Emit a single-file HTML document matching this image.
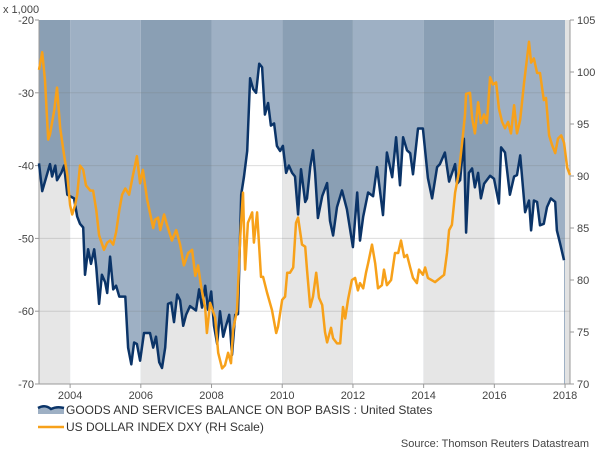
<!DOCTYPE html>
<html><head><meta charset="utf-8"><style>
body{margin:0;background:#fff;}
svg{display:block;font-family:"Liberation Sans",Arial,sans-serif;}
</style></head><body>
<svg id="chart" width="600" height="450" viewBox="0 0 600 450">
<defs><clipPath id="belowClip"><path id="belowPath" d=""/></clipPath></defs>
<g id="bands"></g>
<g id="below" clip-path="url(#belowClip)"></g>
<g id="grid"></g>
<g id="axes"></g>
<g id="series"></g>
<text x="3" y="13" font-size="11" fill="#444">x 1,000</text>
<g>
<g>
<path d="M38,414 L38,408 Q45,404 51,409 Q57,406 64,408 L64,414 Z" fill="#9eb0c4"/>
<path d="M38,408 Q45,404 51,409 Q57,406 64,408" fill="none" stroke="#0b3468" stroke-width="2.5"/>
<text x="66" y="414" font-size="12" fill="#333">GOODS AND SERVICES BALANCE ON BOP BASIS : United States</text>
</g>
<g>
<line x1="38" y1="427" x2="64" y2="427" stroke="#f7a11a" stroke-width="2.5"/>
<text x="66" y="431" font-size="12" fill="#333">US DOLLAR INDEX DXY (RH Scale)</text>
</g>
</g>
<text x="589" y="447" font-size="11" fill="#444" text-anchor="end">Source: Thomson Reuters Datastream</text>
</svg>
<script>
const balDates=[2003.12,2003.21,2003.43,2003.49,2003.58,2003.63,2003.75,2003.83,2003.92,2004.11,2004.20,2004.28,2004.37,2004.42,2004.51,2004.59,2004.68,2004.74,2004.82,2004.90,2004.99,2005.05,2005.13,2005.22,2005.30,2005.39,2005.56,2005.64,2005.73,2005.81,2005.89,2005.98,2006.09,2006.26,2006.35,2006.43,2006.52,2006.60,2006.69,2006.77,2006.86,2006.94,2007.03,2007.11,2007.20,2007.28,2007.39,2007.56,2007.65,2007.73,2007.82,2007.90,2007.99,2008.07,2008.16,2008.24,2008.33,2008.41,2008.50,2008.58,2008.67,2008.75,2008.84,2008.92,2009.01,2009.09,2009.18,2009.26,2009.35,2009.43,2009.51,2009.60,2009.68,2009.77,2009.85,2009.94,2010.02,2010.11,2010.19,2010.28,2010.36,2010.45,2010.53,2010.65,2010.70,2010.79,2010.87,2010.93,2011.01,2011.13,2011.27,2011.35,2011.44,2011.55,2011.69,2011.83,2012.00,2012.12,2012.20,2012.29,2012.43,2012.57,2012.68,2012.85,2012.96,2013.11,2013.22,2013.33,2013.42,2013.53,2013.62,2013.70,2013.84,2013.98,2014.12,2014.24,2014.38,2014.46,2014.60,2014.72,2014.89,2014.94,2015.03,2015.14,2015.20,2015.28,2015.37,2015.45,2015.54,2015.62,2015.71,2015.88,2015.99,2016.13,2016.19,2016.30,2016.44,2016.56,2016.64,2016.73,2016.87,2016.98,2017.04,2017.12,2017.21,2017.29,2017.40,2017.49,2017.60,2017.72,2017.77,2017.86,2017.97];
const balValues=[-39.7,-43.5,-39.8,-41.5,-40,-42,-41,-40,-44,-44.5,-47,-48,-48.5,-55,-51.5,-53.5,-51.5,-54,-59,-55,-56,-57.5,-52.5,-57,-56.5,-58,-58,-65,-67.3,-64.3,-64.5,-66.8,-63,-63,-65,-63.5,-67,-67.8,-65,-59,-58.8,-61.5,-57.7,-58.5,-62,-60.5,-59.3,-59.9,-57,-59.5,-56.5,-59.8,-57.3,-62,-64.5,-60,-63.5,-62,-60.5,-66,-60.5,-60.4,-44,-41.5,-38,-28,-29.5,-30,-26,-26.5,-33,-31.4,-34.5,-34.2,-37.3,-38,-37.3,-41,-40,-41,-41.5,-46.7,-40.5,-45,-44.5,-40.2,-37.9,-41,-47.2,-44.2,-42.4,-47.6,-49.6,-45.7,-43.4,-46,-51.2,-43.7,-50.3,-47,-43.7,-44.2,-40.2,-46.8,-38.2,-41.6,-36.1,-42.7,-36.1,-37.9,-38.3,-41.2,-34.9,-34.9,-41.7,-44.5,-40.2,-39.8,-38.2,-42.2,-39.8,-42.5,-42,-36.3,-49.2,-41,-40.4,-43,-41,-44.5,-42.5,-41.4,-41.8,-45.2,-37.5,-38.2,-44,-41.5,-41.3,-38.6,-46.4,-44.8,-48.9,-44.8,-45,-48.2,-48,-45.7,-44.5,-45,-48.9,-50.7,-53];
const dxyDates=[2003.12,2003.21,2003.29,2003.38,2003.43,2003.55,2003.63,2003.72,2003.83,2003.92,2004.00,2004.06,2004.14,2004.20,2004.28,2004.37,2004.45,2004.57,2004.65,2004.74,2004.82,2004.96,2005.05,2005.13,2005.22,2005.30,2005.39,2005.47,2005.56,2005.67,2005.78,2005.89,2005.98,2006.06,2006.18,2006.35,2006.40,2006.49,2006.55,2006.66,2006.74,2006.88,2007.00,2007.11,2007.22,2007.34,2007.45,2007.54,2007.62,2007.70,2007.82,2007.87,2007.96,2008.10,2008.19,2008.30,2008.38,2008.47,2008.55,2008.61,2008.72,2008.81,2008.89,2008.95,2009.03,2009.15,2009.20,2009.29,2009.40,2009.46,2009.57,2009.71,2009.83,2009.88,2010.00,2010.08,2010.14,2010.22,2010.31,2010.39,2010.45,2010.56,2010.65,2010.70,2010.79,2010.87,2010.96,2011.04,2011.13,2011.21,2011.27,2011.38,2011.44,2011.55,2011.64,2011.72,2011.78,2011.86,2011.97,2012.06,2012.14,2012.20,2012.29,2012.37,2012.43,2012.54,2012.63,2012.71,2012.82,2012.88,2012.96,2013.08,2013.19,2013.28,2013.36,2013.45,2013.53,2013.62,2013.70,2013.81,2013.87,2013.98,2014.04,2014.12,2014.32,2014.58,2014.66,2014.72,2014.80,2014.89,2015.00,2015.11,2015.17,2015.20,2015.31,2015.37,2015.45,2015.54,2015.62,2015.71,2015.79,2015.88,2015.96,2016.05,2016.13,2016.22,2016.30,2016.39,2016.47,2016.56,2016.64,2016.73,2016.84,2016.98,2017.04,2017.12,2017.21,2017.29,2017.40,2017.46,2017.55,2017.63,2017.72,2017.80,2017.89,2017.97,2018.06,2018.14];
const dxyValues=[100.2,101.9,99.2,93.5,94,96.3,98.5,94.6,92,90.1,87.2,86.3,87.2,88.2,91,90.6,89.1,88.6,88.6,86.7,84.3,82.9,83.6,83.8,83.4,84.6,86.7,88.2,88.8,88.2,90.1,91.9,89.3,90.6,87.7,85,85.8,86,84.8,86.3,85.3,83.8,84.8,83.4,81.4,82.6,82.9,80.4,81.4,79.5,77.3,74.9,77.8,76.4,73,71.5,71.8,73,72,75.2,77.1,84.1,88.4,81,85.5,86.5,83.6,86.5,80.3,80.3,78.8,77.1,74.9,75.5,78.1,78.4,80.7,80.7,81.2,85.5,86,83.4,83.2,81,77.4,78.4,80.7,78.3,77.6,75,74,75.4,74.4,73.9,73.9,77.4,76.3,78.1,80,80.2,79,79.7,79.2,80.7,81.6,83.4,81.6,79.2,79.5,81,79.5,80,82.6,82.6,83.8,82.2,82.4,81.2,80.2,79.7,81,80.5,81.2,80.2,79.8,80.5,82.6,84.8,85.3,88.4,90.4,93.9,95.9,97.9,98,95.6,94.1,97.1,95.1,95.9,95.1,99.5,98.8,99,96.5,95.2,94.6,95.2,94.1,96.8,94.1,95.4,98.9,102.9,100.9,101.3,99.9,99.9,97.3,97.5,93.9,93,92.2,93.6,93.9,93.2,90.8,90.1];
const leftTicks=[-20,-30,-40,-50,-60,-70];
const rightTicks=[105,100,95,90,85,80,75,70];
const yearTicks=[2004,2006,2008,2010,2012,2014,2016,2018];
const bandStarts=[2003.12,2004,2006,2008,2010,2012,2014,2016];

const NS='http://www.w3.org/2000/svg';
const X0=39,X1=570,T0=2003.12,T1=2018.14,TOP=20,BOT=384;
const x=t=>X0+(t-T0)/(T1-T0)*(X1-X0);
const yL=v=>TOP+(-20-v)/50*(BOT-TOP);
const yR=v=>TOP+(105-v)/35*(BOT-TOP);
function mk(tag,attrs,parent){const e=document.createElementNS(NS,tag);for(const k in attrs)e.setAttribute(k,attrs[k]);parent.appendChild(e);return e;}

const bands=document.getElementById('bands'),below=document.getElementById('below');
bandStarts.forEach((s,i)=>{
  const e=i+1<bandStarts.length?bandStarts[i+1]:2018;
  const dark=(i%2===0);
  const r=mk('rect',{x:x(s),y:TOP,width:x(e)-x(s),height:BOT-TOP,fill:dark?'#8a9fb4':'#9eb0c4'},bands);
  
  
  const r2=mk('rect',{x:x(s),y:TOP,width:x(e)-x(s),height:BOT-TOP,fill:dark?'#e6e6e6':'#ffffff'},below);
  
  
});
const strip=mk('rect',{x:x(2018),y:TOP,width:X1-x(2018),height:BOT-TOP,fill:'#e2e2e2'},bands);



let pts=balDates.map((t,i)=>x(t).toFixed(1)+','+yL(balValues[i]).toFixed(1));
document.getElementById('belowPath').setAttribute('d','M'+x(balDates[0])+','+BOT+' L'+pts.join(' L')+' L'+x(balDates[balDates.length-1])+','+BOT+' Z');

const grid=document.getElementById('grid'),axes=document.getElementById('axes');
leftTicks.forEach(v=>{
  if(v!==-20&&v!==-70){const g=mk('line',{x1:X0,x2:X1,y1:yL(v),y2:yL(v),stroke:'rgba(120,120,120,0.25)','stroke-width':1},grid);
  
  }
  const t=mk('text',{x:34,y:yL(v)+4,'font-size':11,fill:'#444','text-anchor':'end'},axes);t.textContent=v;
  
  
  mk('line',{x1:35,x2:X0,y1:yL(v),y2:yL(v),stroke:'#999'},axes);
});
rightTicks.forEach(v=>{
  const t=mk('text',{x:577,y:yR(v)+4,'font-size':11,fill:'#444'},axes);t.textContent=v;
  
  
  mk('line',{x1:X1,x2:X1+4,y1:yR(v),y2:yR(v),stroke:'#999'},axes);
});
yearTicks.forEach(v=>{
  const t=mk('text',{x:x(v),y:399,'font-size':11,fill:'#444','text-anchor':'middle'},axes);t.textContent=v;
  
  
  mk('line',{x1:x(v),x2:x(v),y1:BOT,y2:BOT+4,stroke:'#999'},axes);
});
mk('line',{x1:X0,x2:X0,y1:TOP,y2:BOT,stroke:'#999'},axes);
mk('line',{x1:X1,x2:X1,y1:TOP,y2:BOT,stroke:'#999'},axes);
mk('line',{x1:X0,x2:X1,y1:BOT,y2:BOT,stroke:'#999'},axes);

const series=document.getElementById('series');
const bl=mk('polyline',{points:pts.join(' '),fill:'none',stroke:'#0b3468','stroke-width':2.5,'stroke-linejoin':'round'},series);


const dp=dxyDates.map((t,i)=>x(t).toFixed(1)+','+yR(dxyValues[i]).toFixed(1)).join(' ');
const dl=mk('polyline',{points:dp,fill:'none',stroke:'#f7a11a','stroke-width':2.5,'stroke-linejoin':'round'},series);


</script>
</body></html>
